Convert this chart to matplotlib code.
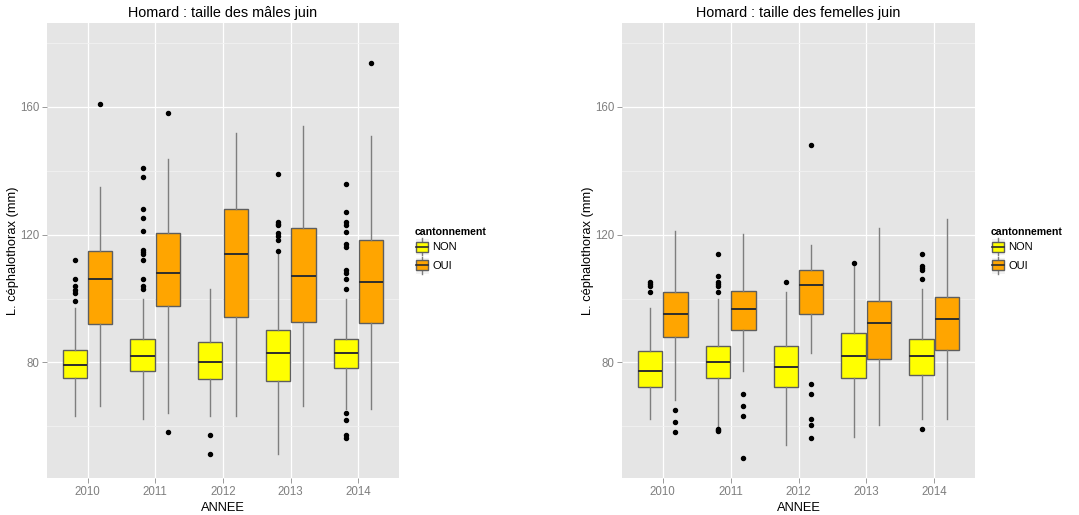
import matplotlib
matplotlib.use("Agg")
import matplotlib.pyplot as plt
from matplotlib.patches import Rectangle
from matplotlib.lines import Line2D
from matplotlib.legend_handler import HandlerBase

plt.rcParams["font.family"] = ["Liberation Sans", "DejaVu Sans"]

years = ["2010", "2011", "2012", "2013", "2014"]
groups = ["NON", "OUI"]
group_colors = {"NON": "#FFFF00", "OUI": "#FFA500"}

# Box statistics per year: (whisker low, Q1, median, Q3, whisker high)
males_non = [(63.3, 75.1, 79.1, 84.0, 97.0),
             (62.4, 77.2, 82.1, 87.2, 99.9),
             (63.3, 74.9, 80.1, 86.3, 103.0),
             (51.3, 74.2, 83.0, 90.2, 113.9),
             (65.4, 78.1, 83.0, 87.2, 99.9)]
males_oui = [(66.2, 92.0, 106.1, 115.0, 134.9),
             (64.3, 97.8, 108.1, 120.6, 143.8),
             (63.3, 94.2, 113.9, 128.0, 152.0),
             (66.2, 92.7, 107.0, 122.1, 153.9),
             (65.4, 92.5, 105.1, 118.2, 151.0)]
males_non_out = [[112.0, 106.1, 103.8, 102.8, 101.7, 99.1],
                 [141.0, 138.0, 128.0, 125.1, 121.1, 115.1, 114.5, 113.9, 112.0, 106.1, 104.0, 103.0],
                 [57.3, 51.2],
                 [138.9, 124.0, 123.4, 122.9, 120.4, 119.5, 118.4, 115.0],
                 [136.0, 127.1, 124.1, 123.1, 121.0, 117.0, 116.0, 109.0, 108.0, 106.0, 103.0,
                  64.2, 62.1, 57.3, 56.3]]
males_oui_out = [[161.0], [158.1, 58.3], [], [], [173.9]]

females_non = [(62.4, 72.2, 77.2, 83.6, 97.0),
               (59.5, 75.1, 80.0, 85.0, 99.9),
               (54.2, 72.2, 78.5, 85.0, 102.0),
               (56.5, 75.1, 82.1, 89.3, 110.1),
               (62.4, 76.1, 82.1, 87.2, 103.0)]
females_oui = [(68.3, 88.1, 95.1, 102.0, 121.1),
               (77.2, 90.0, 96.6, 102.3, 120.1),
               (83.1, 95.1, 104.1, 109.0, 116.9),
               (60.3, 81.0, 92.2, 99.1, 122.1),
               (62.4, 83.8, 93.7, 100.4, 125.0)]
females_non_out = [[105.3, 104.5, 103.8, 102.0],
                   [113.9, 107.0, 105.3, 104.5, 103.8, 102.0, 59.2, 58.8, 58.4],
                   [105.1],
                   [111.1],
                   [113.9, 110.1, 109.5, 108.8, 106.1, 59.2]]
females_oui_out = [[65.2, 61.2, 58.2],
                   [70.1, 66.2, 63.2, 50.1],
                   [148.0, 73.1, 70.1, 62.2, 60.3, 56.3],
                   [],
                   []]

y_ticks = [80, 120, 160]
y_minor = [60, 100, 140, 180]
y_limits = (43.8, 186.3)

BG = "#E5E5E5"
EDGE = "#5E5E5E"
WHISK = "#7E7E7E"
MED = "#2E2E2E"
TICK_TXT = "#7F7F7F"


def make_stats(rows, outliers):
    stats = []
    for (lo, q1, med, q3, hi), fl in zip(rows, outliers):
        stats.append(dict(whislo=lo, q1=q1, med=med, q3=q3, whishi=hi, fliers=fl))
    return stats


def draw_panel(ax, title, non_rows, non_out, oui_rows, oui_out):
    ax.set_facecolor(BG)
    centers = list(range(1, len(years) + 1))
    width = 0.36
    for offset, rows, outs, grp in ((-0.1875, non_rows, non_out, "NON"),
                                     (0.1875, oui_rows, oui_out, "OUI")):
        ax.bxp(make_stats(rows, outs),
               positions=[c + offset for c in centers],
               widths=width, patch_artist=True, showcaps=False,
               boxprops=dict(facecolor=group_colors[grp], edgecolor=EDGE, linewidth=1.0),
               whiskerprops=dict(color=WHISK, linewidth=1.0),
               medianprops=dict(color=MED, linewidth=1.4),
               flierprops=dict(marker="o", markersize=2.9, markerfacecolor="black",
                               markeredgecolor="black", linestyle="none"),
               zorder=3)
    ax.set_xlim(0.4, len(years) + 0.6)
    ax.set_ylim(*y_limits)
    ax.set_xticks(centers)
    ax.set_xticklabels(years)
    ax.set_yticks(y_ticks)
    ax.set_yticks(y_minor, minor=True)
    ax.grid(True, which="major", color="white", linewidth=0.9, zorder=0)
    ax.grid(True, which="minor", axis="y", color="#F2F2F2", linewidth=0.6, zorder=0)
    ax.set_axisbelow(True)
    for s in ax.spines.values():
        s.set_visible(False)
    ax.tick_params(axis="both", which="major", colors="#8A8A8A", labelcolor=TICK_TXT,
                   labelsize=8.3, length=3.5, width=0.6, pad=2)
    ax.tick_params(axis="y", which="minor", length=0)
    ax.set_title(title, fontsize=10.4, color="black", pad=4)
    ax.set_xlabel("ANNEE", fontsize=9.3, labelpad=3)
    ax.set_ylabel("L. céphalothorax (mm)", fontsize=9.3, labelpad=0.5)


class BoxKeyHandler(HandlerBase):
    def create_artists(self, legend, orig_handle, xdescent, ydescent, width, height,
                       fontsize, trans):
        fc = orig_handle.get_facecolor()
        bg = Rectangle((-xdescent, -ydescent), width, height, facecolor="#F2F2F2",
                       edgecolor="white", linewidth=0.8, transform=trans)
        cx = -xdescent + width / 2
        wl = Line2D([cx, cx], [-ydescent, -ydescent + height], color=WHISK,
                    linewidth=1.0, transform=trans)
        bw = width * 0.9
        bh = height * 0.6
        box = Rectangle((cx - bw / 2, -ydescent + (height - bh) / 2), bw, bh,
                        facecolor=fc, edgecolor=EDGE, linewidth=1.0, transform=trans)
        med = Line2D([cx - bw / 2, cx + bw / 2], [-ydescent + height / 2] * 2,
                     color=MED, linewidth=1.2, transform=trans)
        return [bg, wl, box, med]


fig = plt.figure(figsize=(10.79, 5.15), dpi=100)
ax1 = fig.add_axes([47 / 1079, 1 - 478 / 515, 352 / 1079, 455 / 515])
ax2 = fig.add_axes([622 / 1079, 1 - 478 / 515, 353 / 1079, 455 / 515])

draw_panel(ax1, "Homard : taille des mâles juin",
           males_non, males_non_out, males_oui, males_oui_out)
draw_panel(ax2, "Homard : taille des femelles juin",
           females_non, females_non_out, females_oui, females_oui_out)

handles = [Rectangle((0, 0), 1, 1, facecolor=group_colors[g]) for g in groups]
for ax in (ax1, ax2):
    leg = ax.legend(handles, groups, title="cantonnement", loc="center left",
                    bbox_to_anchor=(1.045, 0.5), frameon=False, fontsize=8.0,
                    title_fontproperties=dict(weight="bold", size=7.6),
                    handler_map={Rectangle: BoxKeyHandler()},
                    handlelength=1.25, handleheight=2.0, handletextpad=0.3,
                    labelspacing=0.1, borderaxespad=0, borderpad=0)
    leg._legend_box.align = "left"

fig.savefig("out.png", dpi=100)
